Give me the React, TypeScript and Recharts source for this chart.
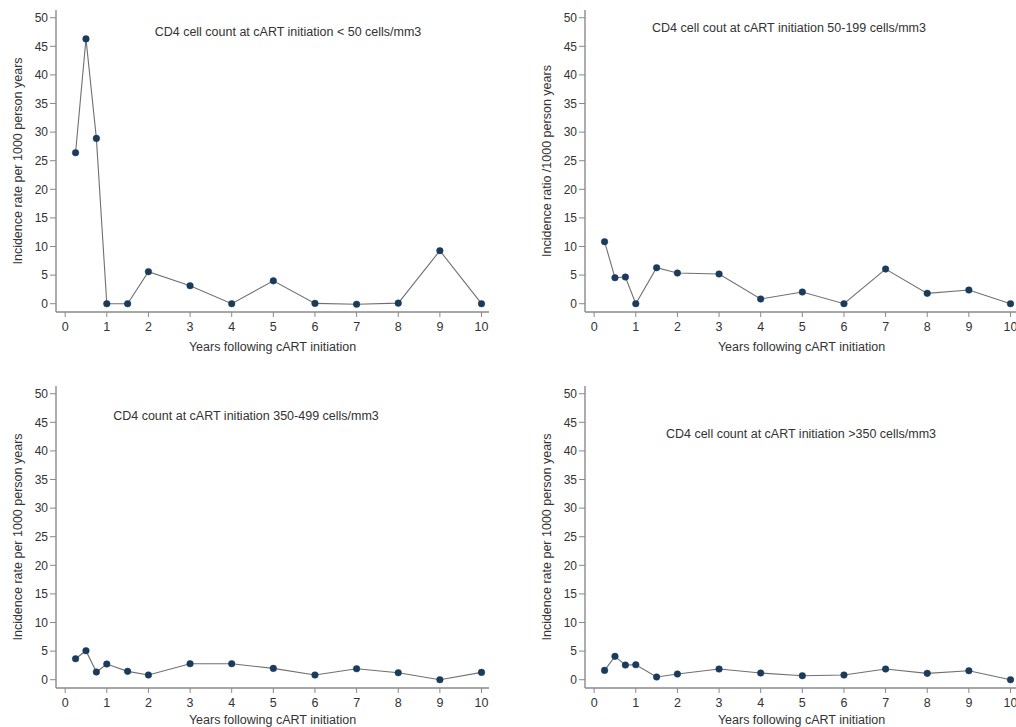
import React from "react";
import { LineChart, Line, XAxis, YAxis } from "recharts";

const years = [0.25, 0.5, 0.75, 1, 1.5, 2, 3, 4, 5, 6, 7, 8, 9, 10];
const rateLt50 = [26.4, 46.3, 28.9, 0, 0, 5.6, 3.15, 0, 4.0, 0.05, -0.1, 0.1, 9.27, 0];
const rate50to199 = [10.84, 4.55, 4.66, 0, 6.29, 5.36, 5.19, 0.82, 2.04, 0, 6.06, 1.81, 2.39, 0];
const rate350to499 = [3.67, 5.07, 1.34, 2.74, 1.46, 0.82, 2.8, 2.8, 1.98, 0.82, 1.92, 1.22, 0, 1.28];
const rateGt350 = [1.63, 4.08, 2.56, 2.62, 0.47, 0.99, 1.86, 1.17, 0.7, 0.82, 1.86, 1.11, 1.57, 0];

const xTicks = [0, 1, 2, 3, 4, 5, 6, 7, 8, 9, 10];
const yTicks = [0, 5, 10, 15, 20, 25, 30, 35, 40, 45, 50];

const titles = [
  "CD4 cell count at cART initiation < 50 cells/mm3",
  "CD4 cell cout at cART initiation 50-199 cells/mm3",
  "CD4 count at cART initiation 350-499 cells/mm3",
  "CD4 cell count at cART initiation >350 cells/mm3",
];
const yLabels = [
  "Incidence rate per 1000 person years",
  "Incidence ratio /1000 person years",
  "Incidence rate per 1000 person years",
  "Incidence rate per 1000 person years",
];
const xLabel = "Years following cART initiation";

const FONT = '"Liberation Sans", Arial, Helvetica, sans-serif';
const AXIS = "#8a8a8a";
const TEXT = "#333333";
const LINE = "#707070";
const DOT = "#1b3b5c";

const W = 528;
const H = 376;
const M = { top: 10, right: 39, bottom: 34, left: 16 };

function toRows(values: number[]) {
  return years.map((x, i) => ({ x, y: values[i] }));
}

type PanelProps = {
  left: number;
  top: number;
  values: number[];
};

function Panel({ left, top, values }: PanelProps) {
  const data = toRows(values);
  return (
    <div style={{ position: "absolute", left, top, width: W, height: H }}>
      <LineChart width={W} height={H} data={data} margin={M}>
        <XAxis
          type="number"
          dataKey="x"
          domain={[-0.22, 10.18]}
          allowDataOverflow
          ticks={xTicks}
          interval={0}
          height={30}
          tickSize={5}
          tickMargin={5}
          axisLine={{ stroke: AXIS, strokeWidth: 1.4 }}
          tickLine={{ stroke: AXIS, strokeWidth: 1 }}
          tick={{ fill: TEXT, fontSize: 12.5, fontFamily: FONT }}
        />
        <YAxis
          type="number"
          domain={[-1.45, 51.35]}
          allowDataOverflow
          ticks={yTicks}
          interval={0}
          width={40}
          tickSize={6}
          tickMargin={2}
          axisLine={{ stroke: AXIS, strokeWidth: 1.4 }}
          tickLine={{ stroke: AXIS, strokeWidth: 1 }}
          tick={{ fill: TEXT, fontSize: 12, fontFamily: FONT }}
        />
        <Line
          type="linear"
          dataKey="y"
          stroke={LINE}
          strokeWidth={1.1}
          dot={{ r: 3.3, fill: DOT, stroke: DOT, strokeWidth: 0.5 }}
          isAnimationActive={false}
        />
      </LineChart>
    </div>
  );
}

const panelPos = [
  { left: 0, top: 0 },
  { left: 529, top: 0 },
  { left: 0, top: 376 },
  { left: 529, top: 376 },
];
const titlePos = [
  { x: 288, y: 36 },
  { x: 789, y: 32 },
  { x: 246, y: 420 },
  { x: 801, y: 438 },
];
const xLabelY = [350.5, 350.5, 348, 348];
const seriesList = [rateLt50, rate50to199, rate350to499, rateGt350];

export default function App() {
  return (
    <div
      style={{
        position: "absolute",
        left: 0,
        top: 0,
        width: 1016,
        height: 727,
        overflow: "hidden",
        background: "#ffffff",
      }}
    >
      {seriesList.map((vals, i) => (
        <Panel key={i} left={panelPos[i].left} top={panelPos[i].top} values={vals} />
      ))}
      <svg
        width={1016}
        height={727}
        style={{ position: "absolute", left: 0, top: 0, pointerEvents: "none" }}
        fontFamily={FONT}
      >
        {titles.map((t, i) => (
          <text
            key={"t" + i}
            x={titlePos[i].x}
            y={titlePos[i].y}
            textAnchor="middle"
            fontSize={12.5}
            fill={TEXT}
          >
            {t}
          </text>
        ))}
        {panelPos.map((p, i) => (
          <text
            key={"x" + i}
            x={p.left + 272.5}
            y={p.top + xLabelY[i]}
            textAnchor="middle"
            fontSize={12.5}
            fill={TEXT}
          >
            {xLabel}
          </text>
        ))}
        {panelPos.map((p, i) => {
          const cx = p.left + 21.5;
          const cy = p.top + 161;
          return (
            <text
              key={"y" + i}
              x={cx}
              y={cy}
              textAnchor="middle"
              fontSize={12.5}
              fill={TEXT}
              transform={`rotate(-90 ${cx} ${cy})`}
            >
              {yLabels[i]}
            </text>
          );
        })}
      </svg>
    </div>
  );
}
